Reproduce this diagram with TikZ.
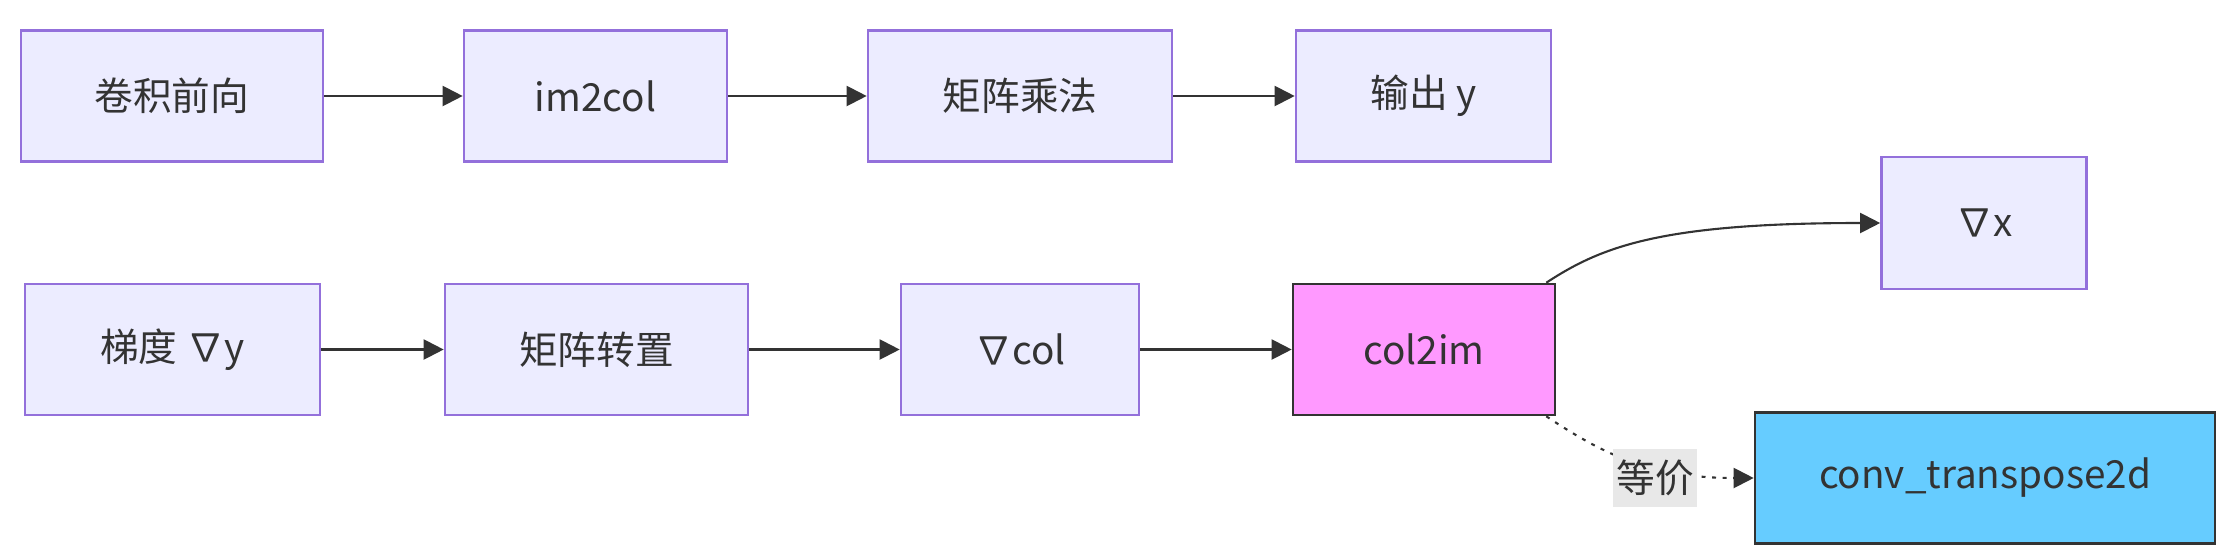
\documentclass[tikz,border=0pt]{standalone}
\usepackage{fontspec}
\setmainfont{Noto Sans CJK SC}
\usepackage{xcolor}
\usetikzlibrary{arrows.meta}

\definecolor{boxfill}{HTML}{ECECFF}
\definecolor{boxline}{HTML}{9370DB}
\definecolor{inkgray}{HTML}{333333}
\definecolor{pinkfill}{HTML}{FF99FF}
\definecolor{bluefill}{HTML}{66CCFF}
\definecolor{lblfill}{HTML}{E8E8E8}

\begin{document}
\begin{tikzpicture}[
  box/.style={draw=boxline, fill=boxfill, line width=0.75pt, minimum height=1.31cm,
              inner sep=0pt, text=inkgray, font=\fontsize{11}{13}\selectfont},
  hot/.style={box, draw=inkgray, fill=pinkfill},
  cold/.style={box, draw=inkgray, fill=bluefill},
  lbl/.style={fill=lblfill, inner sep=1pt, minimum width=0.76cm, minimum height=0.58cm,
              text=inkgray, font=\fontsize{11}{13}\selectfont},
  arr/.style={-{Triangle[length=0.2cm, width=0.2cm]}, line width=0.6pt, draw=inkgray},
  dotarr/.style={arr, dash pattern=on 1.1pt off 1.9pt}
]
\useasboundingbox (0,0) rectangle (22.33,5.56);

% forward row
\node[box, minimum width=3.02cm] (fwd) at (1.72,4.60) {卷积前向};
\node[box, minimum width=2.63cm] (imcol) at (5.955,4.60) {im2col};
\node[box, minimum width=3.04cm] (matmul) at (10.20,4.60) {矩阵乘法};
\node[box, minimum width=2.55cm] (outy) at (14.235,4.60) {输出 y};

% backward row
\node[box, minimum width=2.95cm] (grady) at (1.725,2.065) {梯度 ∇y};
\node[box, minimum width=3.03cm] (transp) at (5.965,2.065) {矩阵转置};
\node[box, minimum width=2.38cm] (gcol) at (10.20,2.065) {∇col};
\node[hot, minimum width=2.62cm] (colim) at (14.24,2.065) {col2im};
\node[box, minimum width=2.05cm, minimum height=1.32cm] (gradx) at (19.84,3.33) {∇x};
\node[cold, minimum width=4.60cm] (convt) at (19.85,0.78) {conv\_transpose2d};

\draw[arr] (fwd) -- (imcol);
\draw[arr] (imcol) -- (matmul);
\draw[arr] (matmul) -- (outy);
\draw[arr] (grady) -- (transp);
\draw[arr] (transp) -- (gcol);
\draw[arr] (gcol) -- (colim);
\draw[arr] ([xshift=-0.1cm]colim.north east) .. controls +(0.55,0.36) and +(-2.2,0) .. (gradx.west);
\draw[dotarr] ([xshift=-0.1cm]colim.south east) .. controls +(0.6,-0.4) and +(-1.0,0) .. (convt.west);
\node[lbl] (equiv) at (16.55,0.78) {等价};
\end{tikzpicture}
\end{document}
